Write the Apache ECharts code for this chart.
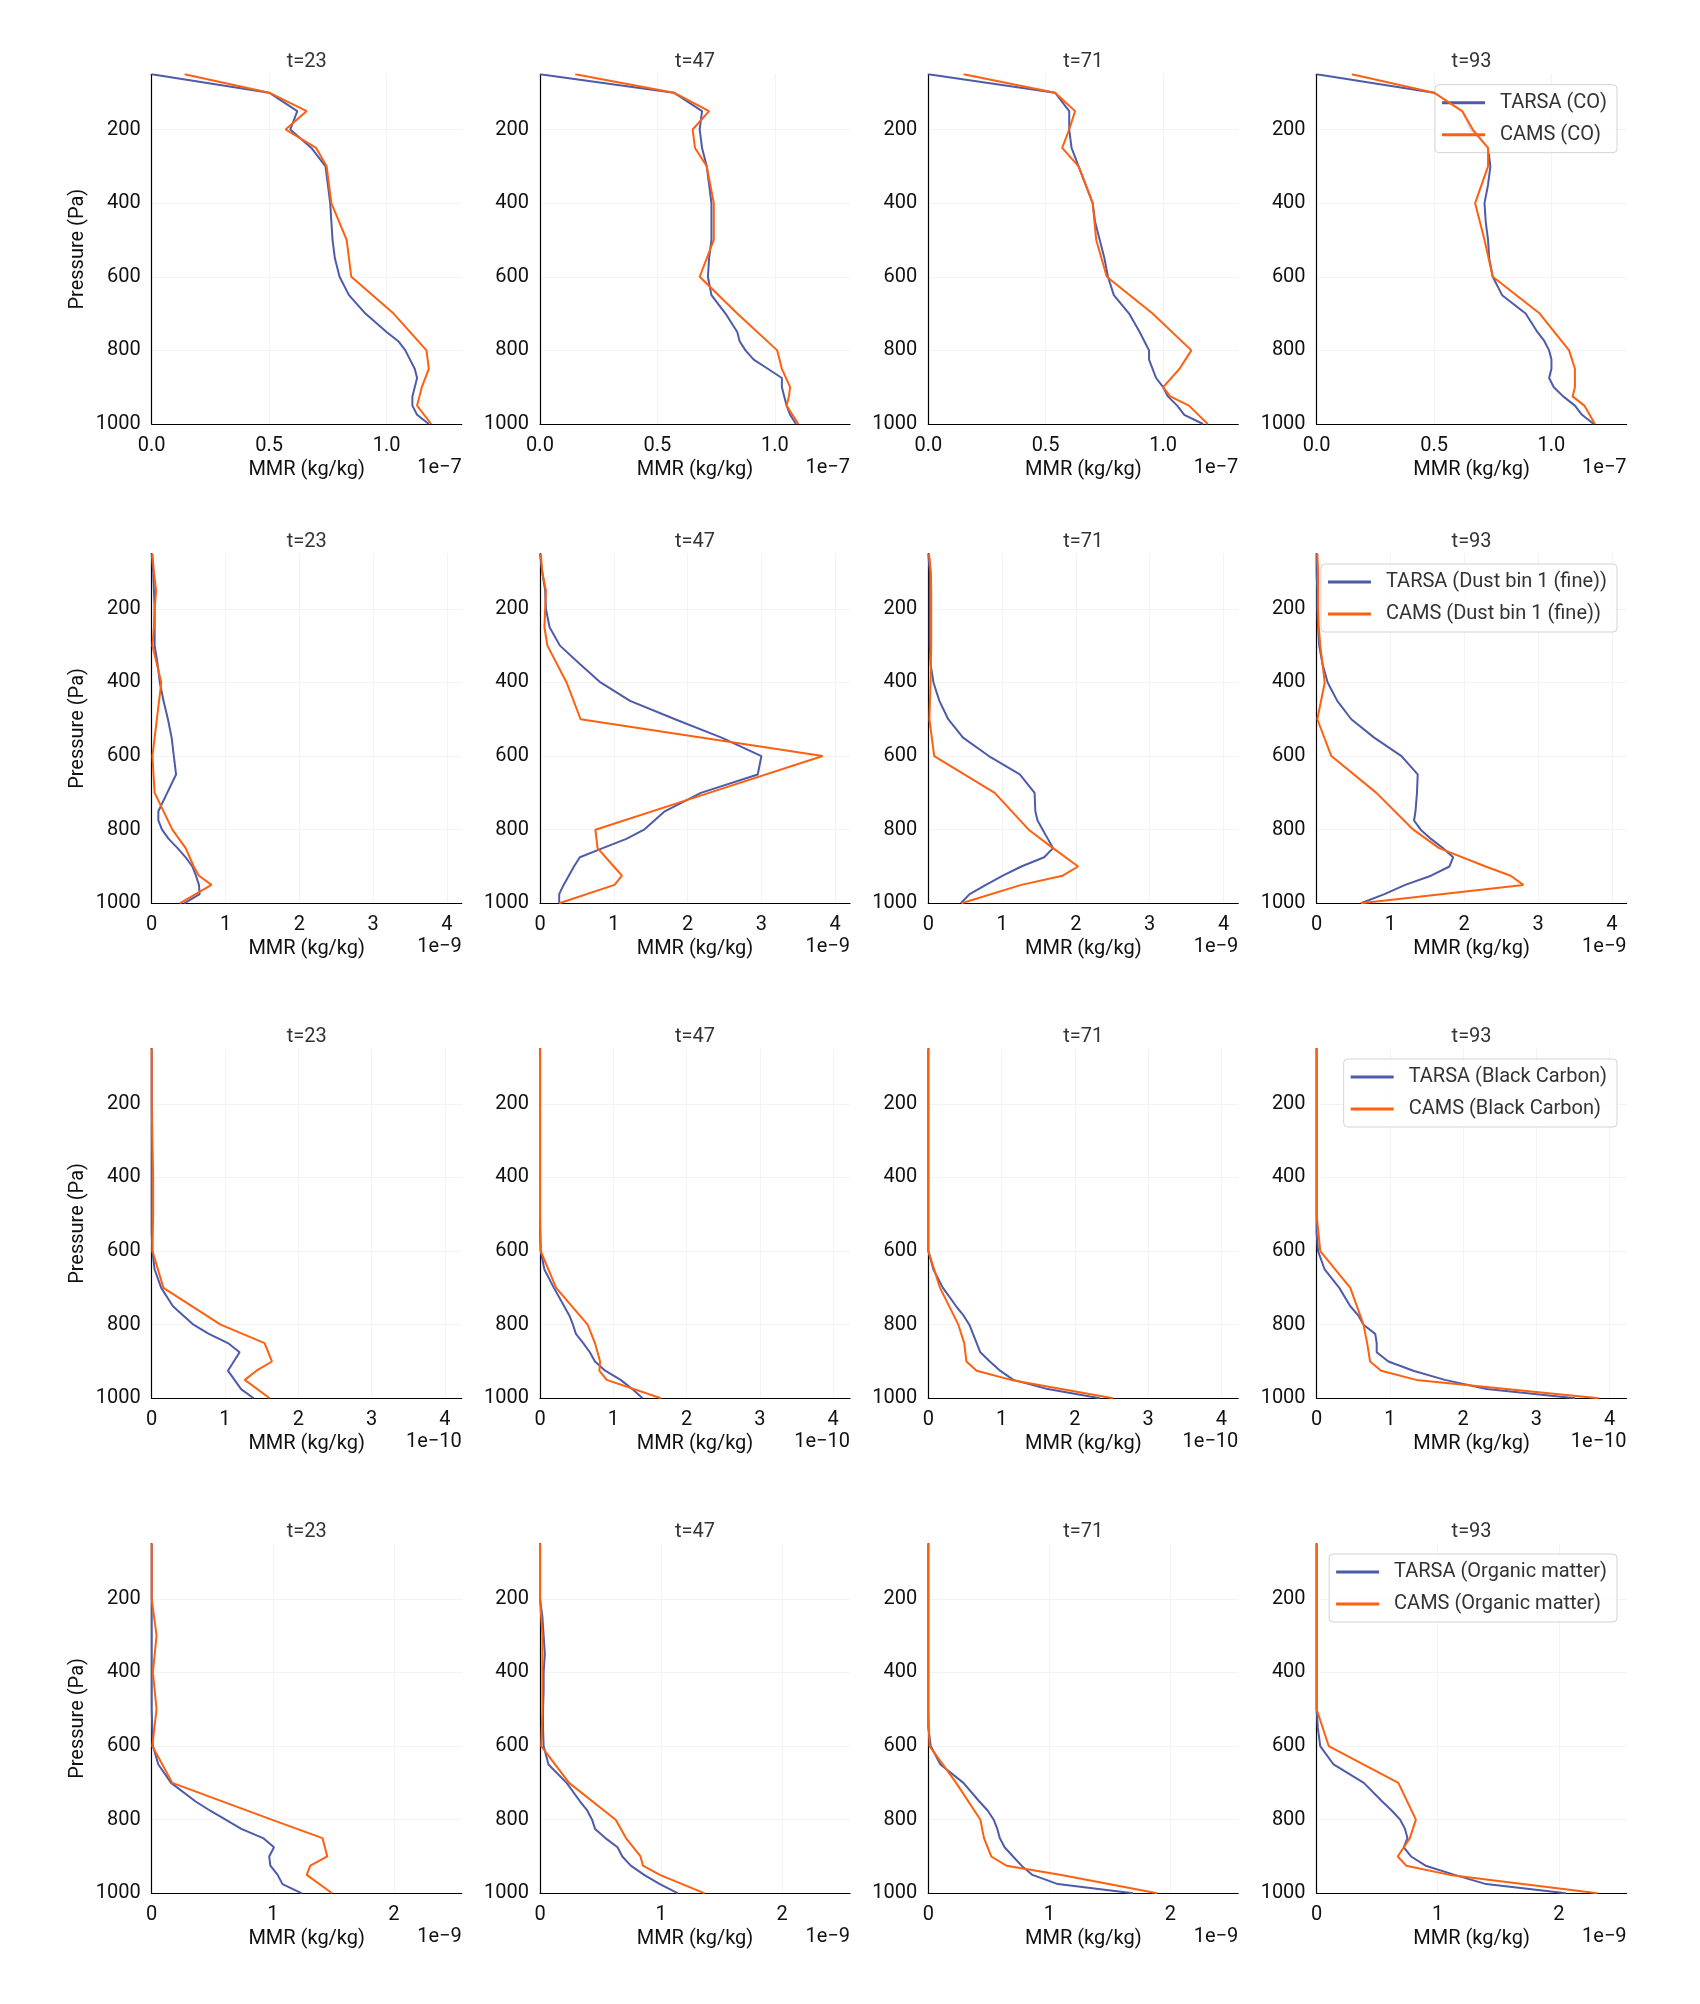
<!DOCTYPE html>
<html>
<head>
<meta charset="utf-8">
<script src="https://cdn.jsdelivr.net/npm/echarts@6/dist/echarts.min.js"></script>
<style>
html,body{margin:0;padding:0;background:#fff;}
#chart{width:1700px;height:2004px;}
</style>
</head>
<body>
<div id="chart"></div>
<script>
// ---------- data ----------
const TIMES = ['t=23', 't=47', 't=71', 't=93'];
const SPECIES = ['CO', 'Dust bin 1 (fine)', 'Black Carbon', 'Organic matter'];
const EXPONENT_LABELS = ['1e\u22127', '1e\u22129', '1e\u221210', '1e\u22129'];
const X_MAX = [1.32, 4.2, 4.23, 2.56];
const X_TICKS = [[0, 0.5, 1.0], [0, 1, 2, 3, 4], [0, 1, 2, 3, 4], [0, 1, 2]];
const Y_TICKS = [200, 400, 600, 800, 1000];

// pressure levels (Pa as labelled)
const P_TARSA = [50,100,150,200,250,300,350,400,450,500,550,600,650,700,750,775,800,825,850,875,900,925,950,975,1000];
const P_CAMS  = [50,100,150,200,250,300,400,500,600,700,800,850,900,925,950,1000];

// CO (x 1e-7 kg/kg), one array per time step
const CO_TARSA = [
  [0.00,0.50,0.62,0.59,0.68,0.74,0.75,0.76,0.765,0.77,0.78,0.80,0.84,0.91,1.00,1.05,1.08,1.10,1.12,1.13,1.12,1.11,1.11,1.13,1.18],
  [0.00,0.57,0.69,0.68,0.69,0.71,0.72,0.73,0.73,0.73,0.72,0.715,0.73,0.79,0.84,0.85,0.875,0.91,0.97,1.03,1.03,1.04,1.05,1.065,1.09],
  [0.00,0.54,0.60,0.60,0.61,0.64,0.67,0.70,0.71,0.73,0.75,0.765,0.79,0.855,0.90,0.92,0.94,0.94,0.955,0.97,1.00,1.02,1.06,1.09,1.17],
  [0.00,0.50,0.62,0.655,0.73,0.74,0.73,0.715,0.72,0.73,0.735,0.75,0.79,0.89,0.94,0.97,0.99,1.00,1.00,0.99,1.01,1.05,1.10,1.13,1.18]
];
const CO_CAMS = [
  [0.14,0.50,0.66,0.57,0.70,0.745,0.765,0.83,0.85,1.03,1.17,1.18,1.15,1.14,1.13,1.19],
  [0.15,0.57,0.72,0.65,0.66,0.71,0.74,0.74,0.68,0.84,1.01,1.03,1.065,1.06,1.05,1.10],
  [0.15,0.54,0.625,0.60,0.57,0.64,0.70,0.715,0.76,0.955,1.12,1.07,1.00,1.03,1.11,1.19],
  [0.15,0.50,0.62,0.665,0.73,0.73,0.675,0.715,0.75,0.95,1.075,1.10,1.10,1.09,1.14,1.185]
];

// Dust bin 1 (x 1e-9 kg/kg)
const DUST_TARSA = [
  [0.00,0.02,0.03,0.04,0.04,0.04,0.08,0.11,0.16,0.22,0.27,0.30,0.33,0.21,0.09,0.09,0.14,0.23,0.35,0.46,0.55,0.60,0.64,0.65,0.44],
  [0.00,0.03,0.07,0.08,0.13,0.27,0.54,0.82,1.22,1.83,2.46,3.00,2.95,2.18,1.69,1.55,1.41,1.17,0.85,0.54,0.46,0.39,0.32,0.26,0.26],
  [0.00,0.02,0.02,0.02,0.02,0.02,0.03,0.07,0.15,0.27,0.47,0.82,1.24,1.44,1.45,1.48,1.55,1.62,1.69,1.57,1.26,1.01,0.78,0.56,0.44],
  [0.00,0.00,0.01,0.01,0.02,0.035,0.08,0.15,0.28,0.47,0.78,1.15,1.37,1.36,1.34,1.32,1.41,1.55,1.71,1.85,1.80,1.55,1.20,0.92,0.60]
];
const DUST_CAMS = [
  [0.01,0.03,0.06,0.04,0.03,0.01,0.13,0.07,0.01,0.04,0.28,0.46,0.57,0.64,0.81,0.38],
  [0.01,0.03,0.08,0.07,0.06,0.10,0.36,0.55,3.83,2.29,0.75,0.78,1.00,1.11,1.01,0.26],
  [0.01,0.035,0.04,0.04,0.04,0.04,0.03,0.015,0.08,0.90,1.36,1.69,2.03,1.82,1.26,0.45],
  [0.01,0.02,0.02,0.02,0.03,0.05,0.11,0.01,0.20,0.81,1.31,1.66,2.29,2.63,2.80,0.60]
];

// Black carbon (x 1e-10 kg/kg)
const BC_TARSA = [
  [0,0,0,0,0,0,0,0,0,0,0,0.01,0.04,0.13,0.29,0.43,0.57,0.78,1.04,1.20,1.12,1.04,1.13,1.22,1.39],
  [0,0,0,0,0,0,0,0,0,0,0,0.01,0.06,0.19,0.33,0.40,0.45,0.49,0.59,0.68,0.75,0.89,1.10,1.26,1.40],
  [0,0,0,0,0,0,0,0,0,0,0,0.00,0.07,0.20,0.38,0.48,0.56,0.61,0.66,0.71,0.84,0.98,1.16,1.63,2.34],
  [0,0,0,0,0,0,0,0,0,0,0,0.02,0.11,0.31,0.46,0.57,0.64,0.80,0.82,0.82,0.98,1.32,1.75,2.32,3.53]
];
const BC_CAMS = [
  [0,0,0,0,0.005,0.01,0.02,0.02,0.01,0.16,0.94,1.54,1.64,1.43,1.27,1.61],
  [0,0,0,0,0,0,0,0,0.01,0.22,0.65,0.75,0.82,0.81,0.91,1.65],
  [0,0,0,0,0,0,0,0,0.00,0.16,0.41,0.49,0.52,0.66,1.13,2.52],
  [0,0,0,0,0,0,0,0,0.05,0.46,0.64,0.69,0.73,0.88,1.36,3.85]
];

// Organic matter (x 1e-9 kg/kg)
const OM_TARSA = [
  [0,0,0,0,0,0,0,0,0,0,0.005,0.01,0.055,0.16,0.36,0.48,0.61,0.74,0.92,1.01,0.97,0.98,1.04,1.08,1.24],
  [0,0,0,0,0.02,0.03,0.04,0.03,0.03,0.025,0.025,0.03,0.07,0.22,0.33,0.39,0.43,0.455,0.54,0.64,0.68,0.75,0.86,0.99,1.14],
  [0,0,0,0,0,0,0,0,0,0,0,0.02,0.10,0.29,0.42,0.49,0.54,0.57,0.59,0.63,0.70,0.77,0.86,1.07,1.69],
  [0,0,0,0,0,0,0,0,0,0,0.01,0.03,0.14,0.39,0.54,0.62,0.69,0.73,0.75,0.72,0.78,0.90,1.14,1.40,2.06]
];
const OM_CAMS = [
  [0,0,0,0,0.02,0.04,0.01,0.04,0.005,0.17,0.99,1.41,1.45,1.31,1.28,1.49],
  [0,0,0,0,0.01,0.02,0.02,0.02,0.01,0.24,0.625,0.71,0.83,0.85,0.99,1.36],
  [0,0,0,0,0,0,0,0,0.01,0.23,0.43,0.46,0.52,0.645,1.10,1.89],
  [0,0,0,0,0,0,0,0,0.10,0.675,0.82,0.77,0.67,0.74,1.10,2.32]
];

const TARSA_ROWS = [CO_TARSA, DUST_TARSA, BC_TARSA, OM_TARSA];
const CAMS_ROWS  = [CO_CAMS, DUST_CAMS, BC_CAMS, OM_CAMS];

// ---------- layout / style ----------
const FONT = 'Roboto, "Liberation Sans", Arial, sans-serif';
const BLUE = '#4d5ba9';
const ORANGE = '#ff600f';
const GRID_LEFT0 = 151.7, COL_STEP = 388.3, GRID_W = 310, GRID_H = 349.7;
const ROW_BOTTOM = [424, 903.3, 1398.3, 1893.3];

const grids = [], xAxes = [], yAxes = [], series = [], graphics = [], legends = [];

for (let r = 0; r < 4; r++) {
  for (let c = 0; c < 4; c++) {
    const idx = r * 4 + c;
    const left = GRID_LEFT0 + c * COL_STEP;
    const top = ROW_BOTTOM[r] - GRID_H;
    grids.push({ left: left, top: top, width: GRID_W, height: GRID_H });
    xAxes.push({
      gridIndex: idx, type: 'value', min: 0, max: X_MAX[r],
      axisLine: { show: true, onZero: false, lineStyle: { color: '#000', width: 1.2 } },
      axisTick: { show: false, customValues: X_TICKS[r] },
      axisLabel: {
        customValues: X_TICKS[r], fontSize: 20, fontFamily: FONT, color: '#111', margin: 12,
        formatter: r === 0 ? (v => v.toFixed(1)) : (v => String(v))
      },
      splitLine: { show: true, lineStyle: { color: '#f3f3f3', width: 1 } },
      name: 'MMR (kg/kg)', nameLocation: 'middle', nameGap: 36,
      nameTextStyle: { fontSize: 20, fontFamily: FONT, color: '#111' }
    });
    yAxes.push({
      gridIndex: idx, type: 'value', inverse: true, min: 50, max: 1000,
      axisLine: { show: true, onZero: false, lineStyle: { color: '#000', width: 1.2 } },
      axisTick: { show: false, customValues: Y_TICKS },
      axisLabel: { customValues: Y_TICKS, fontSize: 20, fontFamily: FONT, color: '#111', margin: 11,
        formatter: v => String(v) },
      splitLine: { show: true, lineStyle: { color: '#f3f3f3', width: 1 } },
      name: c === 0 ? 'Pressure (Pa)' : '', nameLocation: 'middle', nameGap: 64, nameRotate: 90,
      nameTextStyle: { fontSize: 20, fontFamily: FONT, color: '#111' }
    });
    const tName = 'TARSA (' + SPECIES[r] + ')';
    const cName = 'CAMS (' + SPECIES[r] + ')';
    series.push({
      type: 'line', name: tName, xAxisIndex: idx, yAxisIndex: idx,
      data: P_TARSA.map((p, i) => [TARSA_ROWS[r][c][i], p]),
      showSymbol: false, symbol: 'none', color: BLUE,
      lineStyle: { width: 2, color: BLUE }, z: 3
    });
    series.push({
      type: 'line', name: cName, xAxisIndex: idx, yAxisIndex: idx,
      data: P_CAMS.map((p, i) => [CAMS_ROWS[r][c][i], p]),
      showSymbol: false, symbol: 'none', color: ORANGE,
      lineStyle: { width: 2, color: ORANGE }, z: 4
    });
    graphics.push({
      type: 'text', x: left + GRID_W / 2, y: top - 12,
      style: { text: TIMES[c], font: '20px ' + FONT, fill: '#333',
        textAlign: 'center', align: 'center', textVerticalAlign: 'middle', verticalAlign: 'middle' }
    });
    graphics.push({
      type: 'text', x: left + GRID_W, y: ROW_BOTTOM[r] + 44,
      style: { text: EXPONENT_LABELS[r], font: '20px ' + FONT, fill: '#111',
        textAlign: 'right', align: 'right', textVerticalAlign: 'middle', verticalAlign: 'middle' }
    });
  }
  legends.push({
    orient: 'vertical', right: 83, top: ROW_BOTTOM[r] - GRID_H + 10.4,
    data: ['TARSA (' + SPECIES[r] + ')', 'CAMS (' + SPECIES[r] + ')'],
    icon: 'rect', itemWidth: 43, itemHeight: 3, itemGap: 12,
    textStyle: { fontSize: 20, fontFamily: FONT, color: '#333', lineHeight: 20, padding: [0, 0, 0, 10] },
    padding: [8, 10, 8, 7],
    backgroundColor: 'rgba(255,255,255,0.8)', borderColor: '#d3d3d3', borderWidth: 1, borderRadius: 4,
    selectedMode: false
  });
}

const chart = echarts.init(document.getElementById('chart'), null, { renderer: 'canvas' });
chart.setOption({
  animation: false,
  backgroundColor: '#fff',
  grid: grids, xAxis: xAxes, yAxis: yAxes, series: series,
  legend: legends, graphic: graphics
});
</script>
</body>
</html>
